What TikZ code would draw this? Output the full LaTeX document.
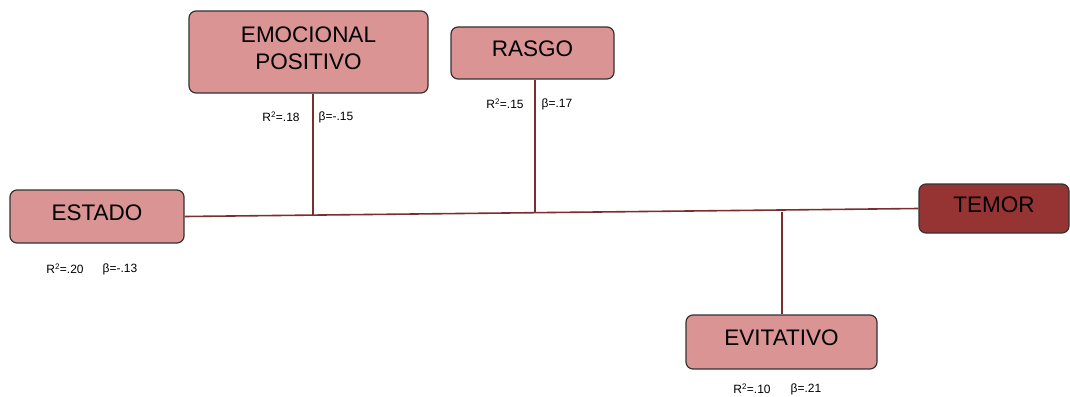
\documentclass[tikz,border=0pt]{standalone}
\usepackage{fontspec}
\setmainfont{Liberation Sans}
\begin{document}
\begin{tikzpicture}[x=1pt,y=-1pt,
  box/.style={draw=black!80,line width=1.2pt,rounded corners=7pt,fill=boxfill,
    font=\fontsize{22.5}{27}\selectfont,align=center,inner sep=0pt,text depth=8pt},
  link/.style={draw=linkcol,line width=1.6pt},
  stat/.style={font=\fontsize{12}{14}\selectfont,inner sep=0pt}]
\definecolor{boxfill}{RGB}{218,148,148}
\definecolor{darkfill}{RGB}{150,52,52}
\definecolor{linkcol}{RGB}{122,46,46}
\useasboundingbox (0,0) rectangle (1070,396);

% predictor and outcome boxes
\node[box,minimum width=174pt,minimum height=53pt] (estado) at (97,216.5) {ESTADO};
\node[box,minimum width=239pt,minimum height=82pt] (emo) at (308.5,52) {EMOCIONAL\\POSITIVO};
\node[box,minimum width=163pt,minimum height=52pt] (rasgo) at (532.5,53) {RASGO};
\node[box,minimum width=191pt,minimum height=54pt] (evit) at (781.5,342) {EVITATIVO};
\node[box,fill=darkfill,minimum width=150pt,minimum height=49pt] (temor) at (994,208.5) {TEMOR};

% junctions on the main line
\coordinate (j1) at (313,214.5);
\coordinate (j2) at (535,213.2);
\coordinate (j3) at (782,212);

% connectors
\draw[link] (estado.east) -- (temor.west);
\draw[link] (emo.south -| j1) -- (j1);
\draw[link] (rasgo.south -| j2) -- (j2);
\draw[link] (evit.north -| j3) -- (j3);

% statistics
\node[stat] (s1a) at (281,117) {R\textsuperscript{2}=.18};
\node[stat] (s1b) at (336,117) {β=-.15};
\node[stat] (s2a) at (505,104) {R\textsuperscript{2}=.15};
\node[stat] (s2b) at (557,104) {β=.17};
\node[stat] (s3a) at (65,269) {R\textsuperscript{2}=.20};
\node[stat] (s3b) at (120,269) {β=-.13};
\node[stat] (s4a) at (752,389) {R\textsuperscript{2}=.10};
\node[stat] (s4b) at (806,389) {β=.21};
\end{tikzpicture}
\end{document}
